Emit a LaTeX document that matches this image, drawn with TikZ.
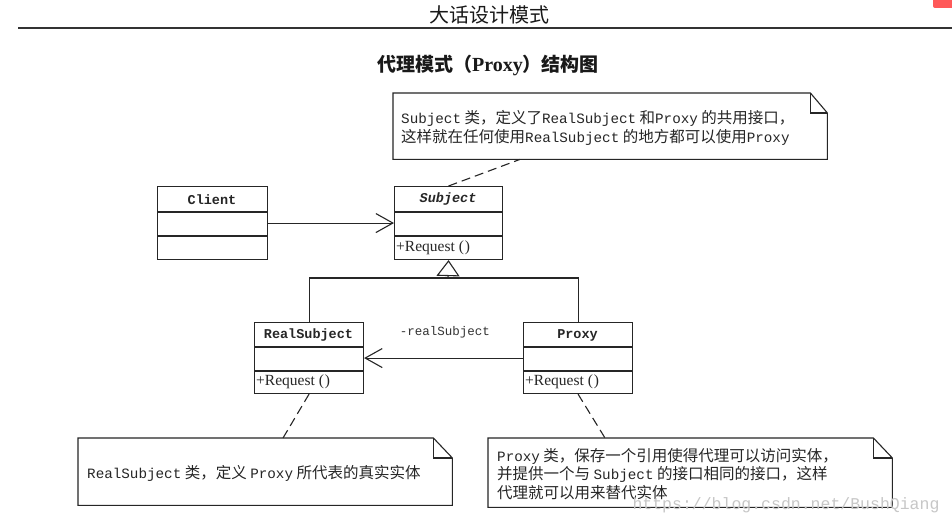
\documentclass[tikz,border=0pt]{standalone}
\usepackage{fontspec}
\setmainfont{Liberation Serif}
\newfontfamily\cjk{Noto Sans CJK SC}
\newfontfamily\mono{Liberation Mono}
\newfontfamily\nmono[Scale=0.92]{Liberation Mono}
\usetikzlibrary{arrows.meta,calc}
\newcommand\lm[1]{{\nmono #1}}
\begin{document}
\begin{tikzpicture}[x=1pt,y=-1pt,
  ln/.style={draw=black!85, line width=1.1pt},
  classbox/.style={ln, inner sep=0pt, anchor=north west},
  notebox/.style={inner sep=0pt, anchor=north west},
  ctitle/.style={inner sep=0pt, font=\mono\bfseries\fontsize{13.5}{15}\selectfont, text=black!85},
  cmeth/.style={inner sep=0pt, anchor=west, font=\rmfamily\fontsize{15.5}{17}\selectfont, text=black!85},
  ntext/.style={inner sep=0pt, anchor=west, align=left, text=black!85},
  dashln/.style={ln, dash pattern=on 9pt off 5pt},
  assoc/.style={ln, -{Straight Barb[length=17pt,width=19pt]}},
  gen/.style={ln, -{Triangle[fill=white,length=16pt,width=23pt]}}
]
\useasboundingbox (0,0) rectangle (952,524);
\fill[white] (0,0) rectangle (952,524);

% header
\node[inner sep=0pt, font=\cjk\fontsize{20}{22}\selectfont, text=black!90] (hdr) at (489,15) {大话设计模式};
\coordinate (hl) at (18,28.5);
\coordinate (hr) at (952,28.5);
\draw[draw=black!80, line width=2pt] (hl) -- (hr);
\fill[red!65!white, rounded corners=2pt] (933,-4) rectangle (955,8);

% heading
\node[inner sep=0pt, text=black!90] (ttl) at (488,65)
  {{\cjk\bfseries\fontsize{19}{21}\selectfont 代理模式（}{\rmfamily\bfseries\fontsize{20}{21}\selectfont Proxy}{\cjk\bfseries\fontsize{19}{21}\selectfont ）结构图}};

% classes
\node[classbox, minimum width=110pt, minimum height=73pt] (client) at (157,186) {};
\draw[ln] (client.west |- 0,212) -- (client.east |- 0,212);
\draw[ln] (client.west |- 0,236) -- (client.east |- 0,236);
\node[ctitle] (clientT) at (212,199.5) {Client};

\node[classbox, minimum width=108pt, minimum height=73pt] (subj) at (394,186) {};
\draw[ln] (subj.west |- 0,212) -- (subj.east |- 0,212);
\draw[ln] (subj.west |- 0,236) -- (subj.east |- 0,236);
\node[ctitle, font=\mono\bfseries\itshape\fontsize{13.5}{15}\selectfont] (subjT) at (448,199.5) {Subject};
\node[cmeth] (subjM) at (396,247.5) {+Request (\kern1pt)};

\node[classbox, minimum width=109pt, minimum height=71pt] (rs) at (254,322) {};
\draw[ln] (rs.west |- 0,347) -- (rs.east |- 0,347);
\draw[ln] (rs.west |- 0,371) -- (rs.east |- 0,371);
\node[ctitle] (rsT) at (308.5,335) {RealSubject};
\node[cmeth] (rsM) at (256,382) {+Request (\kern1pt)};

\node[classbox, minimum width=109pt, minimum height=71pt] (px) at (523,322) {};
\draw[ln] (px.west |- 0,347) -- (px.east |- 0,347);
\draw[ln] (px.west |- 0,371) -- (px.east |- 0,371);
\node[ctitle] (pxT) at (577.5,335) {Proxy};
\node[cmeth] (pxM) at (525,382) {+Request (\kern1pt)};

% connectors
\draw[assoc] (client.east) -- (subj.west);
\coordinate (join) at (448,278);
\draw[ln] (rs.north) |- (join) -| (px.north);
\draw[gen] (join) -- (subj.south);
\draw[assoc] (px.west) -- (rs.east);
\node[inner sep=0pt, font=\mono\fontsize{12.5}{14}\selectfont, text=black!80] (role) at (445,332) {-realSubject};

% notes
\node[notebox, minimum width=434pt, minimum height=66pt] (n1) at (393,93) {};
\draw[ln] (n1.north west) -- ([xshift=-17pt]n1.north east) -- ([yshift=-20pt]n1.north east) -- (n1.south east) -- (n1.south west) -- cycle;
\draw[ln] ([xshift=-17pt]n1.north east) -- ([xshift=-17pt,yshift=-20pt]n1.north east) -- ([yshift=-20pt]n1.north east);
\node[ntext, font=\cjk\fontsize{15.5}{19}\selectfont] (n1t) at (401,127.5)
  {\lm{Subject} 类，定义了\lm{RealSubject} 和\lm{Proxy} 的共用接口，\\这样就在任何使用\lm{RealSubject} 的地方都可以使用\lm{Proxy}};

\node[notebox, minimum width=374pt, minimum height=67pt] (n2) at (78,438) {};
\draw[ln] (n2.north west) -- ([xshift=-19pt]n2.north east) -- ([yshift=-20pt]n2.north east) -- (n2.south east) -- (n2.south west) -- cycle;
\draw[ln] ([xshift=-19pt]n2.north east) -- ([xshift=-19pt,yshift=-20pt]n2.north east) -- ([yshift=-20pt]n2.north east);
\node[ntext, font=\cjk\fontsize{15.5}{19}\selectfont] (n2t) at (87,473)
  {\lm{RealSubject} 类，定义 \lm{Proxy} 所代表的真实实体};

\node[notebox, minimum width=404pt, minimum height=69pt] (n3) at (488,438) {};
\draw[ln] (n3.north west) -- ([xshift=-19pt]n3.north east) -- ([yshift=-20pt]n3.north east) -- (n3.south east) -- (n3.south west) -- cycle;
\draw[ln] ([xshift=-19pt]n3.north east) -- ([xshift=-19pt,yshift=-20pt]n3.north east) -- ([yshift=-20pt]n3.north east);
\node[ntext, font=\cjk\fontsize{15.5}{18.5}\selectfont] (n3t) at (497,474)
  {\lm{Proxy} 类，保存一个引用使得代理可以访问实体，\\并提供一个与 \lm{Subject} 的接口相同的接口，这样\\代理就可以用来替代实体};

% note links
\draw[dashln] (subj.north) -- ($(n1.south west)+(127,0)$);
\draw[dashln] (rs.south) -- ($(n2.north west)+(205,0)$);
\draw[dashln] (px.south) -- ($(n3.north west)+(117,0)$);

% watermark
\node[inner sep=0pt, font=\mono\fontsize{16.5}{18}\selectfont, text=black!22] (wm) at (786,505) {https://blog.csdn.net/BushQiang};
\end{tikzpicture}
\end{document}
